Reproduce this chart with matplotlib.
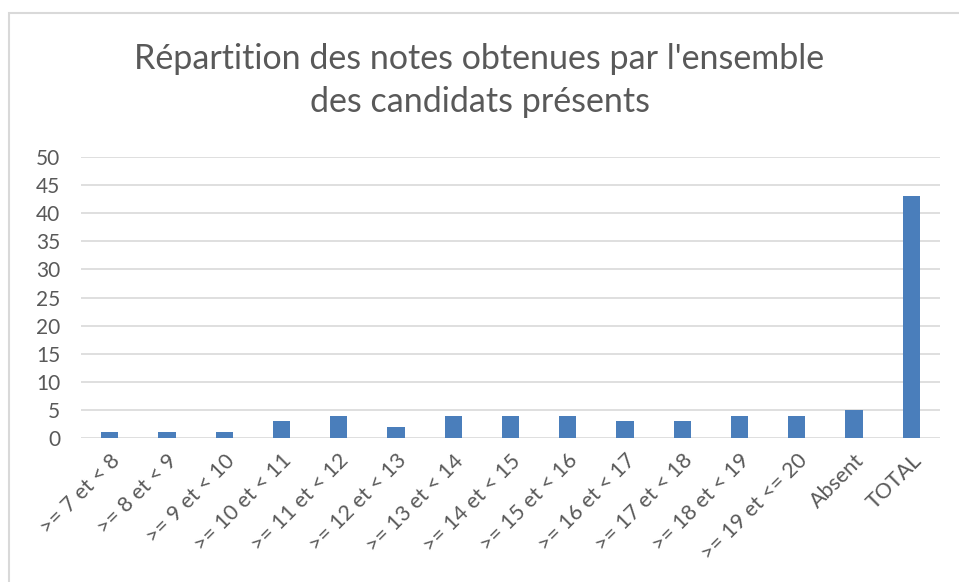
import matplotlib
matplotlib.use("Agg")
import matplotlib.pyplot as plt
from matplotlib.patches import Rectangle

categories = [">= 7 et < 8", ">= 8 et < 9", ">= 9 et < 10", ">= 10 et < 11",
              ">= 11 et < 12", ">= 12 et < 13", ">= 13 et < 14", ">= 14 et < 15",
              ">= 15 et < 16", ">= 16 et < 17", ">= 17 et < 18", ">= 18 et < 19",
              ">= 19 et <= 20", "Absent", "TOTAL"]
counts = [1, 1, 1, 3, 4, 2, 4, 4, 4, 3, 3, 4, 4, 5, 43]
yticks = list(range(0, 55, 5))

plt.rcParams['font.family'] = ['Lato', 'DejaVu Sans']
txt = '#595959'

fig = plt.figure(figsize=(9.59, 5.82), dpi=100)
ax = fig.add_axes([0.0845, 0.2474, 0.8955, 0.4826])

# cadre gris du graphique
fig.patches.append(Rectangle((9 / 959, -0.1), 1.2, 1 - 13 / 582 + 0.1,
                             transform=fig.transFigure, fill=False,
                             edgecolor='#d9d9d9', linewidth=1.5))

x = range(len(categories))
ax.bar(x, counts, width=0.3, color='#4a7ebb', zorder=3)

ax.set_xlim(-0.5, len(categories) - 0.5)
ax.set_ylim(0, 50)
ax.set_yticks(yticks)
ax.yaxis.grid(True, color='#d9d9d9', linewidth=1.2, zorder=0)
for s in ax.spines.values():
    s.set_visible(False)
ax.tick_params(axis='both', length=0, colors=txt)
ax.tick_params(axis='y', pad=15, labelsize=15)
ax.set_xticks(list(x))
ax.set_xticklabels(categories, rotation=45, ha='right', rotation_mode='anchor')
ax.tick_params(axis='x', pad=9, labelsize=15.5)

fig.text(0.5, 0.862, "Répartition des notes obtenues par l'ensemble\ndes candidats présents",
         ha='center', va='center', fontsize=24.5, color=txt, linespacing=1.4)

fig.savefig("out.png", dpi=100)
